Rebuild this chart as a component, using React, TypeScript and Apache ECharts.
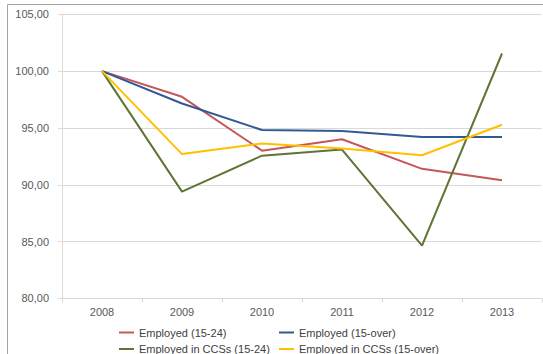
import React, { useEffect, useRef } from "react";
import * as echarts from "echarts";

const years = ["2008", "2009", "2010", "2011", "2012", "2013"];
const seriesNames = [
  "Employed (15-24)",
  "Employed (15-over)",
  "Employed in CCSs (15-24)",
  "Employed in CCSs (15-over)",
];
const employed1524 = [100, 97.74, 93.0, 94.0, 91.4, 90.4];
const employed15over = [100, 97.15, 94.82, 94.73, 94.2, 94.2];
const ccs1524 = [100, 89.4, 92.56, 93.1, 84.65, 101.55];
const ccs15over = [100, 92.7, 93.64, 93.2, 92.6, 95.28];
const colors = ["#C4575A", "#2F5A96", "#5E7534", "#FFC000"];

const FONT = "'Liberation Sans', Arial, sans-serif";

export default function App() {
  const ref = useRef<HTMLDivElement>(null);
  useEffect(() => {
    if (!ref.current) return;
    const chart = echarts.init(ref.current, null, { renderer: "svg" });
    const values = [employed1524, employed15over, ccs1524, ccs15over];
    const legendPos = [
      { left: 119, top: 326.5 },
      { left: 279, top: 326.5 },
      { left: 119, top: 343 },
      { left: 279, top: 343 },
    ];
    chart.setOption({
      animation: false,
      textStyle: { fontFamily: FONT },
      grid: {
        left: 62,
        right: 1,
        top: 14.3,
        bottom: 55.6,
        containLabel: false,
        outerBoundsMode: "none",
      },
      graphic: [
        {
          type: "line",
          shape: { x1: 7.5, y1: 4.5, x2: 7.5, y2: 354 },
          style: { stroke: "#A6A6A6", lineWidth: 1 },
          silent: true,
        },
        {
          type: "line",
          shape: { x1: 7.5, y1: 4.5, x2: 543, y2: 4.5 },
          style: { stroke: "#A6A6A6", lineWidth: 1 },
          silent: true,
        },
      ],
      legend: seriesNames.map((name, i) => ({
        data: [name],
        left: legendPos[i].left,
        top: legendPos[i].top,
        padding: 0,
        icon: "rect",
        itemWidth: 15,
        itemHeight: 2,
        selectedMode: false,
        textStyle: {
          fontFamily: FONT,
          fontSize: 11,
          color: "#404040",
          lineHeight: 12,
        },
      })),
      xAxis: {
        type: "category",
        data: years,
        boundaryGap: true,
        axisLine: { show: true, lineStyle: { color: "#D9D9D9", width: 1 } },
        axisTick: { show: true, length: 4, lineStyle: { color: "#D9D9D9" } },
        axisLabel: {
          margin: 8,
          fontSize: 11,
          color: "#595959",
          fontFamily: FONT,
        },
        splitLine: { show: false },
      },
      yAxis: {
        type: "value",
        min: 80,
        max: 105,
        interval: 5,
        axisLine: { show: true, lineStyle: { color: "#D9D9D9", width: 1 } },
        axisTick: { show: true, length: 4, lineStyle: { color: "#D9D9D9" } },
        axisLabel: {
          margin: 13,
          fontSize: 11,
          color: "#595959",
          fontFamily: FONT,
          formatter: (v: number) => v.toFixed(2).replace(".", ","),
        },
        splitLine: { show: true, lineStyle: { color: "#D9D9D9", width: 1 } },
      },
      series: seriesNames.map((name, i) => ({
        name,
        type: "line",
        data: values[i],
        symbol: "none",
        color: colors[i],
        lineStyle: { color: colors[i], width: 2 },
      })),
    });
    return () => chart.dispose();
  }, []);
  return (
    <div
      ref={ref}
      style={{ position: "absolute", left: 0, top: 0, width: 543, height: 354 }}
    />
  );
}
